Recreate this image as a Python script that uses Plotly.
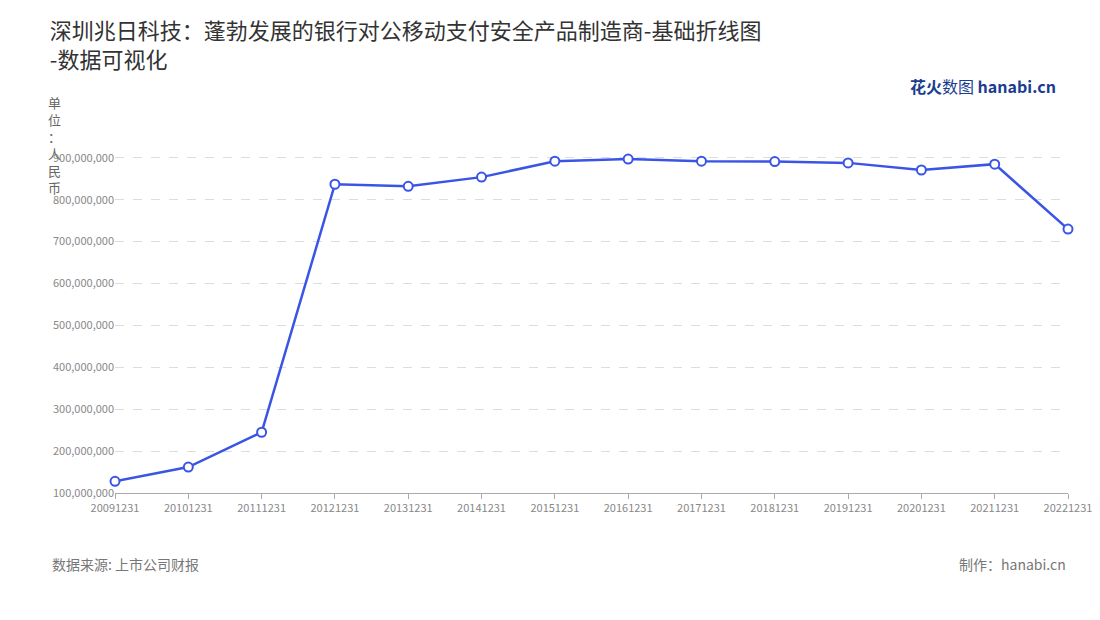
import plotly.graph_objects as go

dates = ["20091231", "20101231", "20111231", "20121231", "20131231", "20141231", "20151231",
         "20161231", "20171231", "20181231", "20191231", "20201231", "20211231", "20221231"]
revenue = [128e6, 162e6, 245e6, 837e6, 832e6, 854e6, 892e6,
           897e6, 892e6, 891e6, 888e6, 871e6, 885e6, 730e6]
y_ticks = [100e6 * i for i in range(1, 10)]

font = "Noto Sans CJK SC"
fig = go.Figure(go.Scatter(
    x=dates, y=revenue, mode="lines+markers",
    line=dict(color="#3a55e6", width=2.5),
    marker=dict(size=9, color="white", line=dict(color="#3a55e6", width=2)),
    cliponaxis=False,
))

fig.update_layout(
    width=1100, height=620, plot_bgcolor="white", paper_bgcolor="white",
    margin=dict(l=107, r=40, t=131, b=135, autoexpand=False),
    font=dict(family=font, color="#888", size=11),
    showlegend=False,
    title=dict(text="深圳兆日科技：蓬勃发展的银行对公移动支付安全产品制造商-基础折线图<br>-数据可视化",
               x=0.038, y=0.95, xanchor="left", yanchor="top",
               font=dict(size=22, color="#333", family=font)),
    xaxis=dict(type="category", showgrid=False, showline=True, linecolor="#aaa",
               ticks="outside", ticklen=5, tickcolor="#aaa", range=[0, 13], automargin=False,
               tickfont=dict(size=11, color="#888")),
    yaxis=dict(range=[100e6, 945e6], tickvals=y_ticks, tickformat=",d", automargin=False,
               showgrid=True, gridcolor="#ddd", griddash="dash", zeroline=False,
               tickfont=dict(size=11, color="#888")),
    annotations=[
        dict(text="单<br>位<br>：<br>人<br>民<br>币", xref="paper", yref="paper",
             x=-0.072, y=1.135, xanchor="left", yanchor="top", showarrow=False,
             font=dict(size=13, color="#666"), align="center"),
        dict(text="数据来源: 上市公司财报", xref="paper", yref="paper", x=-0.068, y=-0.235,
             xanchor="left", showarrow=False, font=dict(size=14, color="#777")),
        dict(text="制作：hanabi.cn", xref="paper", yref="paper", x=1.0, y=-0.235,
             xanchor="right", showarrow=False, font=dict(size=14, color="#777")),
        dict(text="<b>花火</b>数图 <b>hanabi.cn</b>", xref="paper", yref="paper", x=0.99, y=1.19,
             xanchor="right", showarrow=False, font=dict(size=16, color="#1a3d8f")),
    ],
)
fig.write_html("out.html")
